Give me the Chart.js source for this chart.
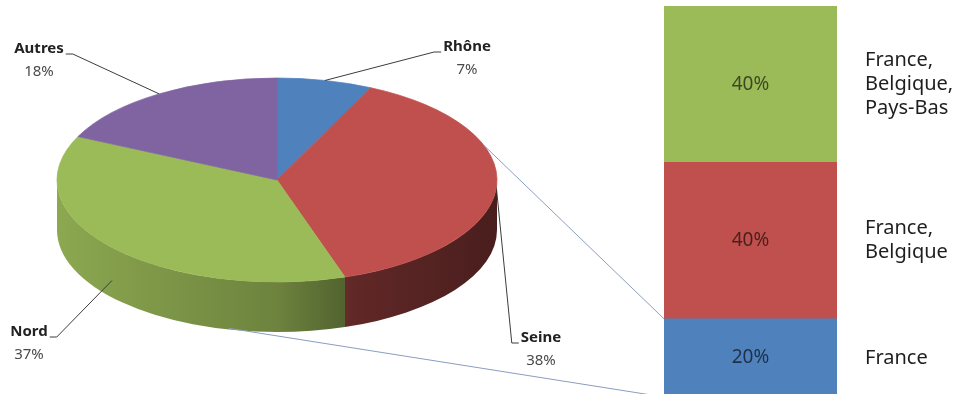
<!DOCTYPE html>
<html lang="fr">
<head>
<meta charset="utf-8">
<title>Répartition par région</title>
<script src="https://cdn.jsdelivr.net/npm/chart.js@4.4.1/dist/chart.umd.min.js"></script>
<style>
  html, body { margin: 0; padding: 0; background: #fff; overflow: hidden; }
  #wrap { position: relative; width: 959px; height: 394px; }
  canvas { position: absolute; top: 0; }
  #pie { left: 0; }
  #bar { left: 600px; }
</style>
</head>
<body>
<div id="wrap">
  <canvas id="pie" width="959" height="394"></canvas>
  <canvas id="bar" width="359" height="397"></canvas>
</div>
<script>
// pie: share per region (%)
const regions = ["Rhône", "Seine", "Nord", "Autres"];
const regionShares = [7, 38, 37, 18];
const regionColors = ["#4f81bd", "#c0504d", "#9bbb59", "#8064a2"];

// bar: split of the detailed part (%), bottom to top
const barGroups = [["France"], ["France,", "Belgique"], ["France,", "Belgique,", "Pays-Bas"]];
const barShares = [20, 40, 40];
const barColors = ["#4f81bd", "#c0504d", "#9bbb59"];

// where the region names sit, and where the link lines leave the pie (fraction of the turn)
const labelSpots = [[467, 47], [541, 338], [29, 332], [39, 49]];
const linkTurns = [0.195, 0.535];

const FLAT = 102 / 220;   // vertical squash of the disc
const DEPTH = 50;         // thickness of the disc
const TOP_Y = 180;        // centre of the top face on screen
const FONT = "'Noto Sans', sans-serif";

function shade(hex, f) {
    const n = parseInt(hex.slice(1), 16);
    const r = Math.round(((n >> 16) & 255) * f);
    const g = Math.round(((n >> 8) & 255) * f);
    const b = Math.round((n & 255) * f);
    return `rgb(${r}, ${g}, ${b})`;
}

const barText = {
    id: "barText",
    afterDatasetsDraw(chart) {
        const ctx = chart.ctx;
        ctx.save();
        chart.data.datasets.forEach((ds, i) => {
            const el = chart.getDatasetMeta(i).data[0];
            const mid = (el.y + el.base) / 2;
            ctx.fillStyle = "rgba(0, 0, 0, 0.62)";
            ctx.font = `19px ${FONT}`;
            ctx.textAlign = "center";
            ctx.textBaseline = "middle";
            ctx.fillText(`${ds.data[0]}%`, el.x, mid);

            const lines = barGroups[i];
            const lh = 24;
            ctx.fillStyle = "#1e1e1e";
            ctx.font = `20px ${FONT}`;
            ctx.textAlign = "left";
            lines.forEach((t, k) => {
                ctx.fillText(t, el.x + el.width / 2 + 28, mid + (k - (lines.length - 1) / 2) * lh);
            });
        });
        ctx.restore();
    }
};

const barChart = new Chart(document.getElementById("bar"), {
    type: "bar",
    data: {
        labels: [""],
        datasets: barGroups.map((g, i) => ({
            label: g.join(" "),
            data: [barShares[i]],
            backgroundColor: barColors[i],
            borderWidth: 0,
            barPercentage: 1,
            categoryPercentage: 1
        }))
    },
    options: {
        responsive: false,
        animation: false,
        events: [],
        layout: { padding: { left: 64, right: 122, top: 6, bottom: 0 } },
        scales: {
            x: { stacked: true, display: false },
            y: { stacked: true, display: false, min: 0, max: 100 }
        },
        plugins: { legend: { display: false }, tooltip: { enabled: false } }
    },
    plugins: [barText]
});

function rimPoint(arc, angle, lowered) {
    const s = Math.sin(angle);
    return {
        x: arc.x + arc.outerRadius * Math.cos(angle),
        y: TOP_Y + arc.outerRadius * FLAT * s + (lowered ? DEPTH * Math.max(0, s) : 0)
    };
}

const pie3d = {
    id: "pie3d",
    beforeDatasetsDraw(chart) {
        const ctx = chart.ctx;
        const arcs = chart.getDatasetMeta(0).data;

        // front wall of the disc, lit from the left
        arcs.forEach((arc, i) => {
            const a0 = Math.max(arc.startAngle, 0);
            const a1 = Math.min(arc.endAngle, Math.PI);
            if (a1 <= a0) return;
            const rx = arc.outerRadius, ry = rx * FLAT, cx = arc.x;
            const g = ctx.createLinearGradient(cx - rx, 0, cx + rx, 0);
            g.addColorStop(0, shade(regionColors[i], 0.9));
            g.addColorStop(0.5, shade(regionColors[i], 0.7));
            g.addColorStop(0.68, shade(regionColors[i], 0.5));
            g.addColorStop(1, shade(regionColors[i], 0.38));
            ctx.beginPath();
            ctx.ellipse(cx, TOP_Y, rx, ry, 0, a0, a1);
            ctx.ellipse(cx, TOP_Y + DEPTH, rx, ry, 0, a1, a0, true);
            ctx.closePath();
            ctx.fillStyle = g;
            ctx.fill();
        });

        // squash the top face into an ellipse
        ctx.save();
        ctx.translate(0, TOP_Y);
        ctx.scale(1, FLAT);
        ctx.translate(0, -arcs[0].y);
    },
    afterDatasetsDraw(chart) {
        const ctx = chart.ctx;
        ctx.restore();
        const arcs = chart.getDatasetMeta(0).data;

        // links from the pie to the bar
        const barMeta = barChart.getDatasetMeta(0).data[0];
        const left = barChart.canvas.offsetLeft + barMeta.x - barMeta.width / 2;
        const ends = [barMeta.y, barMeta.base];
        ctx.save();
        ctx.strokeStyle = "#8b9dc0";
        ctx.lineWidth = 1;
        linkTurns.forEach((t, k) => {
            const p = rimPoint(arcs[0], -Math.PI / 2 + t * Math.PI * 2, true);
            ctx.beginPath();
            ctx.moveTo(p.x, p.y);
            ctx.lineTo(left, ends[k]);
            ctx.stroke();
        });

        // region labels with leader lines
        arcs.forEach((arc, i) => {
            const mid = (arc.startAngle + arc.endAngle) / 2;
            const a = rimPoint(arc, mid, true);
            const [lx, ly] = labelSpots[i];
            ctx.font = `bold 15px ${FONT}`;
            const w = ctx.measureText(regions[i]).width;
            const onRight = lx > arc.x;
            const sx = onRight ? lx - w / 2 - 2 : lx + w / 2 + 2;
            const sy = ly + 5;
            ctx.beginPath();
            ctx.moveTo(sx, sy);
            ctx.lineTo(sx + (onRight ? -7 : 7), sy);
            ctx.lineTo(a.x, a.y);
            ctx.strokeStyle = "#3c3c3c";
            ctx.stroke();

            ctx.textAlign = "center";
            ctx.textBaseline = "middle";
            ctx.fillStyle = "#222";
            ctx.fillText(regions[i], lx, ly);
            ctx.font = `15px ${FONT}`;
            ctx.fillStyle = "#4a4a4a";
            ctx.fillText(`${regionShares[i]}%`, lx, ly + 23);
        });
        ctx.restore();
    }
};

new Chart(document.getElementById("pie"), {
    type: "pie",
    data: {
        labels: regions,
        datasets: [{
            data: regionShares,
            backgroundColor: regionColors,
            borderColor: regionColors,
            borderWidth: 1,
            clip: false
        }]
    },
    options: {
        responsive: false,
        animation: false,
        events: [],
        radius: 220,
        layout: { padding: { left: 0, right: 405, top: 0, bottom: 0 } },
        plugins: { legend: { display: false }, tooltip: { enabled: false } }
    },
    plugins: [pie3d]
});
</script>
</body>
</html>
